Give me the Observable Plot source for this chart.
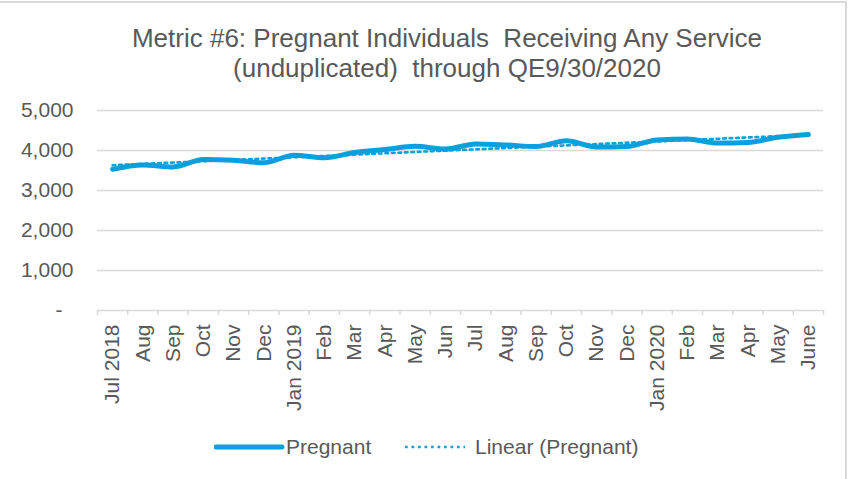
<!DOCTYPE html>
<html>
<head>
<meta charset="utf-8">
<script src="https://cdn.jsdelivr.net/npm/d3@7"></script>
<script src="https://cdn.jsdelivr.net/npm/@observablehq/plot@0.6"></script>
<style>
  html, body { margin: 0; padding: 0; background: #fff; }
  #wrap { position: relative; width: 853px; height: 479px; overflow: hidden;
          font-family: "Liberation Sans", Arial, sans-serif; color: #595959; }
  #frame { position: absolute; left: -5px; top: 1px; width: 852px; height: 490px;
           border-top: 2px solid #d9d9d9; border-right: 2px solid #d9d9d9; box-sizing: border-box; }
  #title { position: absolute; left: 0; top: 23px; width: 894px; text-align: center;
           font-size: 26px; line-height: 30px; white-space: pre; }
  #chart { position: absolute; left: 0; top: 90px; }
  #legend { position: absolute; top: 435px; left: 0; width: 853px; font-size: 21px; }
  .li { position: absolute; top: 0; display: flex; align-items: center; white-space: pre; }
</style>
</head>
<body>
<div id="wrap">
  <div id="frame"></div>
  <div id="title"></div>
  <div id="chart"></div>
  <div id="legend"></div>
</div>
<script>
const titleLines = ["Metric #6: Pregnant Individuals  Receiving Any Service", "(unduplicated)  through QE9/30/2020"];
const months = ["Jul 2018","Aug","Sep","Oct","Nov","Dec","Jan 2019","Feb","Mar","Apr","May","Jun",
                "Jul","Aug","Sep","Oct","Nov","Dec","Jan 2020","Feb","Mar","Apr","May","June"];
const pregnant = [3530,3640,3590,3775,3755,3695,3880,3820,3950,4025,4105,4035,
                  4165,4140,4100,4245,4085,4100,4265,4290,4185,4200,4330,4400];
const yTicks = [0,1000,2000,3000,4000,5000];
const seriesName = "Pregnant";
const trendName = "Linear (Pregnant)";
const blue = "#0aa0de";

document.getElementById("title").textContent = titleLines.join("\n");

const data = months.map((m, i) => ({i, m, v: pregnant[i]}));
const boundaries = d3.range(months.length + 1).map(k => k - 0.5);

const chart = Plot.plot({
  width: 853, height: 330,
  marginLeft: 97, marginRight: 30, marginTop: 20, marginBottom: 110,
  x: {domain: [-0.5, months.length - 0.5]},
  y: {domain: [0, 5000]},
  style: {fontFamily: "'Liberation Sans', Arial, sans-serif", fontSize: "21px", color: "#595959", background: "transparent"},
  marks: [
    Plot.ruleY(yTicks, {stroke: "#d9d9d9", strokeWidth: 1.5, strokeOpacity: 1}),
    Plot.axisY({ticks: yTicks.filter(d => d > 0), tickSize: 0, tickPadding: 24,
                tickFormat: d3.format(","), label: null, fill: "#595959"}),
    Plot.axisY({ticks: [0], tickSize: 0, tickPadding: 35, tickFormat: () => "-", label: null, fill: "#595959"}),
    Plot.axisX({ticks: boundaries, tickSize: 5, tickFormat: () => "", label: null,
                stroke: "#d9d9d9", strokeWidth: 1.5, strokeOpacity: 1}),
    Plot.axisX({ticks: d3.range(months.length), tickSize: 0, tickPadding: 14, tickRotate: -90,
                tickFormat: i => months[i], label: null, fill: "#595959"}),
    Plot.linearRegressionY(data, {x: "i", y: "v", ci: 0, stroke: blue, strokeWidth: 2.6,
                strokeDasharray: "2.7,3.8"}),
    Plot.line(data, {x: "i", y: "v", stroke: blue, strokeWidth: 5, curve: "monotone-x",
                strokeLinecap: "round", strokeLinejoin: "round"})
  ]
});
document.getElementById("chart").appendChild(chart);

// legend
const legend = document.getElementById("legend");
function item(left, dash, width, label) {
  const d = document.createElement("div");
  d.className = "li";
  d.style.left = left + "px";
  const svg = d3.create("svg").attr("width", width + 6).attr("height", 24);
  svg.append("line").attr("x1", 2).attr("x2", width + 2).attr("y1", 12).attr("y2", 12)
     .attr("stroke", blue).attr("stroke-width", dash ? 2.6 : 5)
     .attr("stroke-dasharray", dash ? "2.7,3.8" : null).attr("stroke-linecap", dash ? "butt" : "round");
  d.appendChild(svg.node());
  const s = document.createElement("span");
  s.textContent = label;
  s.style.marginLeft = dash ? "6px" : "0px";
  d.appendChild(s);
  legend.appendChild(d);
}
item(214, false, 66, seriesName);
item(403, true, 60, trendName);
</script>
</body>
</html>
